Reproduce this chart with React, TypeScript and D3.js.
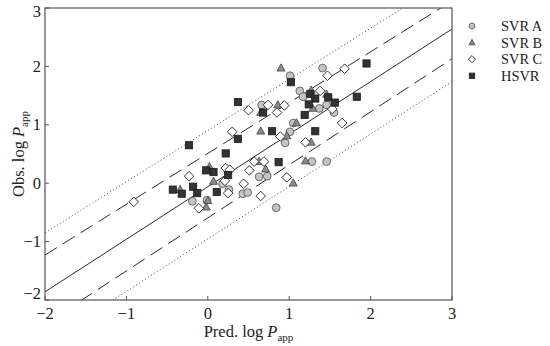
import React from "react";
import * as d3 from "d3";

const seriesNames = ["SVR A", "SVR B", "SVR C", "HSVR"];

const svrA: [number, number][] = [
  [1.01, 1.84], [1.41, 1.97], [0.66, 1.34], [1.13, 1.58], [1.17, 1.48], [1.37, 1.28],
  [1.46, 1.34], [1.55, 1.21], [1.05, 1.03], [1.01, 0.88], [0.95, 0.69], [1.28, 0.37],
  [1.46, 0.37], [0.63, 0.11], [0.73, 0.12], [0.43, -0.18], [0.49, -0.16], [0.84, -0.42],
  [0.18, -0.01], [0.26, -0.11], [-0.01, -0.29], [-0.19, -0.31],
];
const svrB: [number, number][] = [
  [0.9, 1.97], [1.27, 1.59], [1.46, 1.52], [0.86, 1.34], [0.65, 1.21], [1.29, 1.28],
  [1.09, 1.03], [0.97, 0.81], [0.65, 0.89], [1.27, 0.7], [1.2, 0.38], [0.63, 0.37],
  [0.71, 0.24], [0.02, 0.28], [0.07, 0.03], [0.0, -0.3], [-0.02, -0.41], [-0.34, -0.11],
  [1.05, 0.0],
];
const svrC: [number, number][] = [
  [1.68, 1.96], [1.47, 1.84], [0.5, 1.25], [0.74, 1.34], [0.94, 1.33], [0.85, 1.21],
  [1.38, 1.58], [1.53, 1.27], [1.65, 1.03], [0.3, 0.88], [0.89, 0.8], [1.2, 0.7],
  [0.57, 0.37], [0.69, 0.37], [0.51, 0.22], [0.97, 0.1], [-0.23, 0.12], [-0.91, -0.32],
  [0.22, 0.26], [0.27, 0.23], [0.21, 0.04], [0.25, -0.17], [0.44, -0.01], [0.65, -0.22],
  [-0.11, -0.43],
];
const hsvr: [number, number][] = [
  [1.02, 1.73], [1.95, 2.05], [0.37, 1.39], [0.68, 1.21], [1.26, 1.53], [1.32, 1.45],
  [1.48, 1.47], [1.24, 1.35], [1.56, 1.38], [1.83, 1.48], [1.19, 1.17], [0.37, 0.76],
  [0.79, 0.89], [1.32, 0.89], [-0.23, 0.65], [0.22, 0.51], [0.87, 0.36], [-0.02, 0.22],
  [0.07, 0.19], [0.25, 0.14], [0.11, -0.15], [-0.43, -0.11], [-0.32, -0.18], [-0.18, -0.06],
  [-0.13, -0.17],
];

// reference lines: [x0, y0, x1, y1]
const fitLine = [-2, -1.86, 3, 2.64];
const upperDashed = [-2, -1.23, 3, 3.12];
const lowerDashed = [-2, -2.41, 3, 2.13];
const upperDotted = [-2, -0.85, 3, 3.53];
const lowerDotted = [-2, -2.75, 3, 1.74];

const xTicks = [-2, -1, 0, 1, 2, 3];
const yTicks = [-2, -1, 0, 1, 2, 3];

const W = 550, H = 346;
const L = 45, T = 8, R = 452, B = 300;
const FONT = "'Liberation Serif', 'Times New Roman', serif";

const x = d3.scaleLinear().domain([-2, 3]).range([L, R]);
const y = d3.scaleLinear().domain([-2, 3]).range([B, T]);

const fmt = (v: number) => (v < 0 ? "\u2212" + Math.abs(v) : String(v));

function marker(kind: number, cx: number, cy: number, s: number, key: string) {
  if (kind === 0)
    return <circle key={key} cx={cx} cy={cy} r={3.9 * s} fill="#c4c4c4" stroke="#505050" strokeWidth={0.8} />;
  if (kind === 1) {
    const h = 7.2 * s, w = 8 * s;
    const p = `M${cx},${cy - h * 0.6}L${cx + w / 2},${cy + h * 0.4}L${cx - w / 2},${cy + h * 0.4}Z`;
    return <path key={key} d={p} fill="#8c8c8c" stroke="#404040" strokeWidth={0.8} />;
  }
  if (kind === 2) {
    const r = 4.8 * s;
    const p = `M${cx},${cy - r}L${cx + r},${cy}L${cx},${cy + r}L${cx - r},${cy}Z`;
    return <path key={key} d={p} fill="#ffffff" stroke="#202020" strokeWidth={0.9} />;
  }
  const a = 3.6 * s;
  return <rect key={key} x={cx - a} y={cy - a} width={2 * a} height={2 * a} fill="#333333" stroke="#1a1a1a" strokeWidth={0.8} />;
}

export default function App() {
  React.useEffect(() => {
    document.body.style.margin = "0";
  }, []);
  const series = [svrA, svrB, svrC, hsvr];
  const line = (l: number[], dash: string | undefined, k: string, w = 1) => (
    <line key={k} x1={x(l[0])} y1={y(l[1])} x2={x(l[2])} y2={y(l[3])}
      stroke="#2a2a2a" strokeWidth={w} strokeDasharray={dash} clipPath="url(#plotclip)" />
  );
  return (
    <svg width={W} height={H} style={{ display: "block", background: "#fff" }} fontFamily={FONT}>
      <defs>
        <clipPath id="plotclip">
          <rect x={L} y={T} width={R - L} height={B - T} />
        </clipPath>
      </defs>
      <rect x={0} y={0} width={W} height={H} fill="#fff" />
      {line(upperDotted, "1 2.5", "ud", 0.9)}
      {line(lowerDotted, "1 2.5", "ld", 0.9)}
      {line(upperDashed, "14 7", "uda", 1)}
      {line(lowerDashed, "14 7", "lda", 1)}
      {line(fitLine, undefined, "fit", 1)}
      <g clipPath="url(#plotclip)">
        {series.map((s, k) => s.map((d, i) => marker(k, x(d[0]), y(d[1]), 1, `m${k}-${i}`)))}
      </g>
      <rect x={L} y={T} width={R - L} height={B - T} fill="none" stroke="#555" strokeWidth={1.2} />
      {xTicks.map((t) => (
        <g key={"xt" + t}>
          <line x1={x(t)} x2={x(t)} y1={B} y2={B - 4} stroke="#555" />
          <text x={x(t)} y={B + 19} textAnchor="middle" fontSize={16.5} fill="#222">{fmt(t)}</text>
        </g>
      ))}
      {yTicks.map((t) => (
        <g key={"yt" + t}>
          <line x1={L} x2={L + 4} y1={y(t)} y2={y(t)} stroke="#555" />
          <text x={L - 4} y={y(t) + (t === -2 ? -1 : t === 3 ? 9 : 5.5)} textAnchor="end" fontSize={16.5} fill="#222">{fmt(t)}</text>
        </g>
      ))}
      <text x={(L + R) / 2} y={337} textAnchor="middle" fontSize={16.5} fill="#222">
        Pred. log <tspan fontStyle="italic">P</tspan><tspan fontSize={11} dy={4}>app</tspan>
      </text>
      <text transform={`translate(24,${(T + B) / 2}) rotate(-90)`} textAnchor="middle" fontSize={16.5} fill="#222">
        Obs. log <tspan fontStyle="italic">P</tspan><tspan fontSize={11} dy={4}>app</tspan>
      </text>
      {seriesNames.map((n, k) => {
        const yy = 26 + k * 16.6;
        return (
          <g key={"lg" + n}>
            {marker(k, 472, yy, 0.75, "lm" + k)}
            <text x={501} y={yy + 5} fontSize={14.4} fill="#222">{n}</text>
          </g>
        );
      })}
    </svg>
  );
}
